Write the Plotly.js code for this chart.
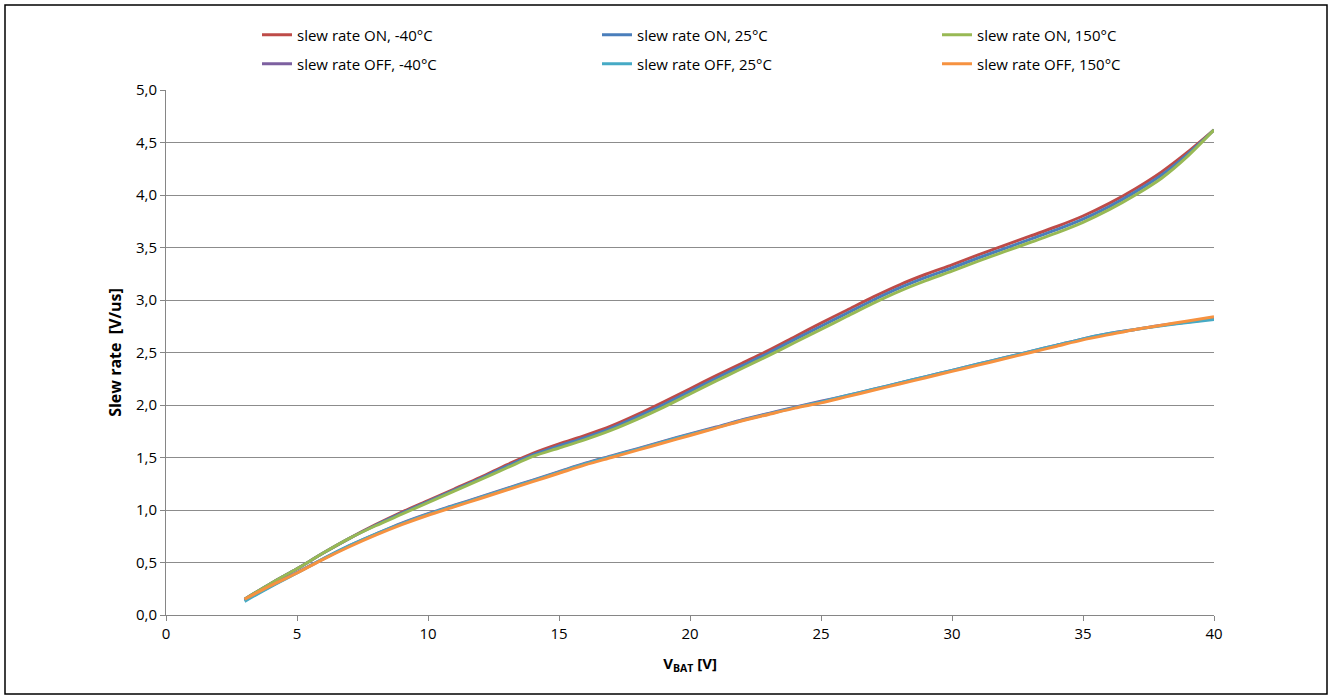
<!DOCTYPE html>
<html>
<head>
<meta charset="utf-8">
<script src="https://cdn.plot.ly/plotly-3.0.1.min.js"></script>
<style>
html,body{margin:0;padding:0;background:#fff;}
#chart{width:1334px;height:696px;}
</style>
</head>
<body>
<div id="chart"></div>
<script>
const vbat = [3,4,5,6,7,8,9,10,11,12,13,14,15,16,17,18,19,20,21,22,23,24,25,26,27,28,29,30,31,32,33,34,35,36,37,38,39,40];

const onM40  = [0.15,0.30,0.44,0.59,0.73,0.86,0.98,1.09,1.20,1.31,1.43,1.54,1.63,1.71,1.80,1.91,2.03,2.155,2.28,2.40,2.52,2.65,2.78,2.905,3.03,3.145,3.245,3.335,3.43,3.52,3.61,3.70,3.80,3.92,4.06,4.22,4.41,4.62];
const on25   = [0.15,0.30,0.44,0.59,0.73,0.855,0.97,1.08,1.19,1.30,1.415,1.525,1.61,1.69,1.78,1.89,2.005,2.13,2.255,2.375,2.495,2.625,2.75,2.875,3.00,3.115,3.215,3.305,3.40,3.49,3.58,3.67,3.77,3.89,4.03,4.19,4.39,4.62];
const on150  = [0.15,0.30,0.44,0.59,0.73,0.85,0.96,1.07,1.18,1.29,1.40,1.51,1.59,1.67,1.76,1.865,1.98,2.105,2.23,2.35,2.47,2.595,2.72,2.845,2.97,3.085,3.185,3.275,3.37,3.46,3.55,3.64,3.74,3.86,4.00,4.16,4.37,4.62];
const offM40 = [0.14,0.275,0.405,0.535,0.66,0.77,0.875,0.965,1.045,1.125,1.205,1.285,1.365,1.445,1.515,1.585,1.655,1.725,1.79,1.86,1.92,1.98,2.035,2.09,2.15,2.21,2.27,2.33,2.39,2.45,2.51,2.57,2.63,2.68,2.72,2.76,2.79,2.825];
const off25  = [0.13,0.27,0.40,0.535,0.66,0.77,0.87,0.96,1.04,1.12,1.20,1.28,1.36,1.44,1.51,1.58,1.65,1.72,1.785,1.855,1.915,1.975,2.03,2.09,2.15,2.21,2.27,2.33,2.39,2.45,2.51,2.57,2.63,2.68,2.72,2.755,2.785,2.815];
const off150 = [0.15,0.28,0.40,0.53,0.65,0.76,0.86,0.95,1.03,1.11,1.19,1.27,1.35,1.43,1.50,1.57,1.64,1.71,1.78,1.85,1.91,1.97,2.02,2.08,2.14,2.20,2.26,2.32,2.38,2.44,2.50,2.56,2.62,2.67,2.72,2.76,2.80,2.84];

const seriesNames = ["slew rate ON, -40°C","slew rate ON, 25°C","slew rate ON, 150°C","slew rate OFF, -40°C","slew rate OFF, 25°C","slew rate OFF, 150°C"];
const seriesData = [onM40,on25,on150,offM40,off25,off150];
const seriesColors = ["#BE4B48","#4A7EBB","#98B954","#7D60A0","#46AAC5","#F69240"];
const seriesLegend = ["legend","legend","legend","legend2","legend2","legend2"];

const xTicks = [0,5,10,15,20,25,30,35,40];
const yTicks = [0,0.5,1,1.5,2,2.5,3,3.5,4,4.5,5];
const yTickText = ["0,0","0,5","1,0","1,5","2,0","2,5","3,0","3,5","4,0","4,5","5,0"];

const FONT = "'Open Sans', 'Liberation Sans', sans-serif";

const traces = seriesData.map((d,i)=>({
  x: vbat, y: d, name: seriesNames[i], type:'scatter', mode:'lines',
  legend: seriesLegend[i],
  line:{color:seriesColors[i], width:3, shape:'spline', smoothing:0.8},
  hoverinfo:'skip'
}));

const legendBase = (ypix)=>({orientation:'h', x:(257-166)/1048, xanchor:'left',
  y:(615-ypix)/525, yanchor:'middle',
  entrywidth:295, entrywidthmode:'pixels', bgcolor:'rgba(0,0,0,0)',
  font:{family:FONT, size:15, color:'#000'}, traceorder:'normal', itemclick:false});

const layout = {
  width:1334, height:696,
  margin:{l:166, r:120, t:90, b:81},
  paper_bgcolor:'#fff', plot_bgcolor:'#fff',
  font:{family:FONT, size:15, color:'#000'},
  showlegend:true,
  legend: legendBase(35),
  legend2: legendBase(64),
  xaxis:{range:[0,40], tickvals:xTicks, ticktext:xTicks.map(String),
    showgrid:false, zeroline:false, showline:true, linecolor:'#868686', linewidth:1,
    ticks:'outside', ticklen:5, tickcolor:'#868686',
    tickfont:{family:FONT, size:15, color:'#000'},
    title:{text:'<b>V<sub>BAT</sub> [V]</b>', font:{family:FONT, size:15, color:'#000'}, standoff:16}},
  yaxis:{range:[0,5], tickvals:yTicks, ticktext:yTickText,
    showgrid:true, gridcolor:'#8c8c8c', gridwidth:1, zeroline:false,
    showline:true, linecolor:'#868686', linewidth:1,
    ticks:'outside', ticklen:5, tickcolor:'#868686',
    tickfont:{family:FONT, size:15, color:'#000'},
    title:{text:'<b>Slew rate \u00a0[V/us]</b>', font:{family:FONT, size:16, color:'#000'}, standoff:10}},
  shapes:[{type:'rect', xref:'paper', yref:'paper',
    x0:(5-166)/1048, x1:(1327-166)/1048, y0:(615-694)/525, y1:(615-5)/525,
    line:{color:'#000', width:1.5}, fillcolor:'rgba(0,0,0,0)', layer:'below'}]
};

Plotly.newPlot('chart', traces, layout, {staticPlot:true, displayModeBar:false});
</script>
</body>
</html>
